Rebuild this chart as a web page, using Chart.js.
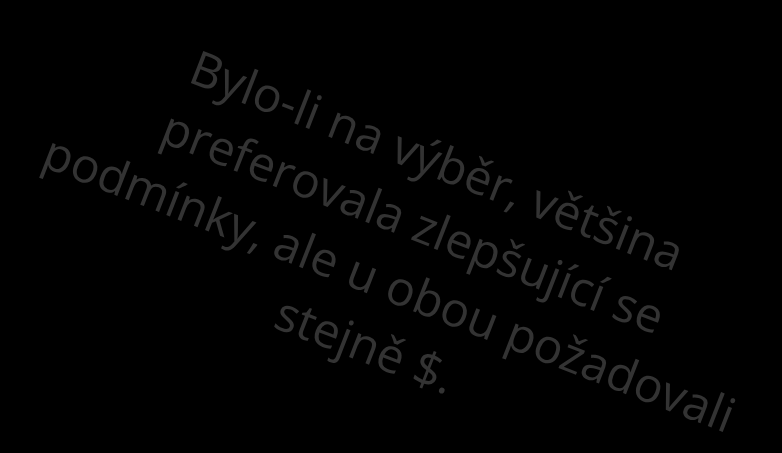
<!DOCTYPE html>
<html>
<head>
<meta charset="utf-8">
<script src="https://cdn.jsdelivr.net/npm/chart.js@4"></script>
<style>
  html, body { margin: 0; padding: 0; background: #000; }
  #wrap { width: 782px; height: 453px; }
</style>
</head>
<body>
<div id="wrap"><canvas id="myChart"></canvas></div>
<script>
// text lines of the slide
const lines = [
  "Bylo-li na výběr, většina",
  "preferovala zlepšující se",
  "podmínky, ale u obou požadovali",
  "stejně $."
];

// draws the rotated text block
const rotatedText = {
  id: "rotatedText",
  afterDraw(chart) {
    const ctx = chart.ctx;
    ctx.save();
    ctx.translate(400, 256);
    ctx.rotate(21.3 * Math.PI / 180);
    ctx.fillStyle = "#333333";
    ctx.font = "48px 'Open Sans'";
    ctx.textAlign = "center";
    ctx.textBaseline = "middle";
    const lh = 66;
    for (let i = 0; i < lines.length; i++) {
      ctx.fillText(lines[i], 0, (i - (lines.length - 1) / 2) * lh);
    }
    ctx.restore();
  }
};

new Chart(document.getElementById("myChart"), {
  type: "scatter",
  data: { datasets: [] },
  options: {
    responsive: true,
    maintainAspectRatio: false,
    animation: false,
    plugins: { legend: { display: false }, tooltip: { enabled: false } },
    scales: { x: { display: false }, y: { display: false } }
  },
  plugins: [rotatedText]
});
</script>
</body>
</html>
